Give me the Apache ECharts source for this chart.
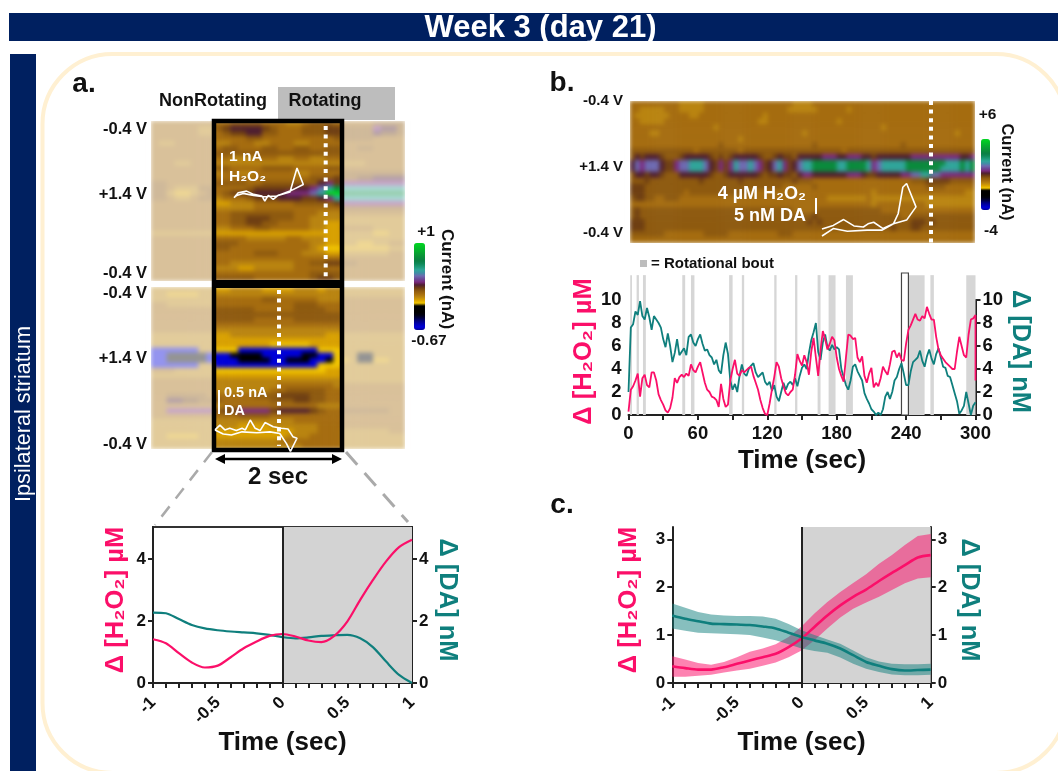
<!DOCTYPE html>
<html><head><meta charset="utf-8">
<style>html,body{margin:0;padding:0;background:#fff}#c{width:1058px;height:771px;isolation:isolate}</style>
<script src="https://cdn.jsdelivr.net/npm/echarts@6/dist/echarts.min.js"></script>
</head><body><div id="c"></div>
<script>
const FONT='Liberation Sans', PINK='#fb0f69', TEAL='#0f7f7d', NAVY='#002060';
// colour scale, bottom to top of the colour bars
const scaleColors=['#00009a','#0000d8','#0000b0','#000080','#000040','#000010','#000000','#000000','#000000','#f2c600','#d8a000','#b98410','#a56c0f','#8e5a0f','#6f3f12','#4f1f30','#7a2a7e','#6a4a96','#6e6ab0','#3f8fa5','#30a59a','#1d9a78','#0f8a5a','#0a7f45','#0a8a3c','#0a9836','#06a830','#04b82a','#02c825','#00d820'];
// position on that scale of each hex digit used in the plots below
const digitLevels=[0,1,4,6,9,10,11,12,13,14,15,16,18,20,24,29];
// current levels (hex digit per cell)
const plotATop=[
"77777777 7788887776678887 77778888","77777766 89aaaa9877788899 8888baa8","77777766 7899aa8877788899 8888a998","77777777 7777887777777778 88887777",
"76677777 6677766777667777 77777777","77777777 7887778877887788 77887777","77777777 8888888888888888 77777777","77777777 7766677766776677 77777777",
"77766777 6666666666666666 66677777","77777777 8877778888777788 77777777","77777777 6776677777667777 88888888","77777777 7777777777778889 8899aaaa",
"88777777 8888778888888ab9 bbbbbbbb","88766688 7777899999aabcde dddddddd","88655678 78999aaaabbbcdff eeeeeeee","88766788 67778999aaa99abd dddddddd",
"77777777 5566677777888889 bbbbbbbb","77777777 6666677777777777 88888888","77777777 7788888888777666 77777777","77777777 7788999888776666 66666666",
"77777777 7788998877776655 66666666","77777777 6677788777776655 77776666","66666666 5555555555555555 66665566","77777777 7777666667766655 66666666",
"77777777 8887777777776655 66556677","77777777 8877777777776544 55555566","77777777 7777788877766655 66666677","77777777 7777777777777777 77777777",
"77777777 7766666666778899 88777777","77777777 6665566666777777 77777777","77777777 7777777777778888 77777777","77777777 8888877777778998 77777777"];
const plotABottom=[
"66666666 5566665555666566 66666666","66555566 6666666666666666 66666666","66666666 7777778877777666 77777777","77666666 7777777777888777 77777777",
"77777777 8888877777888877 77777777","77777777 8888888888888888 77777777","77777777 8888877777888888 77777777","77777777 7777777777777777 77777777",
"77777777 6666666666666666 77777777","66666666 5566666666666655 66666666","66666666 5555555555555555 66666666","66666666 5555555444445555 66666666",
"11111166 4441111111111444 66666666","11333331 1133331111133114 66336666","11333331 1113333113331134 56335566","11111166 1111111111111444 66666666",
"77766666 4444444444444455 66666666","66666666 5555555555555555 66666666","77777777 6666666666666666 66666666","77777777 6666666677777776 77777777",
"77777777 6666666778888877 77777777","77888887 7777788899998877 77777777","77aa9988 8777777888998877 77777777","77777777 6777777777777666 77777777",
"77bbbbbb 899bbbb9aaaa9877 88888877","77777777 7778888777777777 77777777","66666666 6666666666777777 77777777","66666666 6665555666666777 77777777",
"66666666 5555555555666777 66666677","66555566 5555555556667777 66666666","66666666 6666666677777777 66666666","66666666 6666666666677777 66666666"];
const plotB=[
"7777777777 6666677777 7777777777 7776666777 7777777777 7777777777 7777777777",
"7766666777 6666677777 7777777777 7766666677 7777677777 7777777777 7777777777",
"7666666677 7766777777 7777777677 7777777777 7777777777 7777777777 7777777777",
"7766666777 7777777777 7777776677 7777777777 7767777777 7777777777 7777777777",
"7777777777 7777777677 7777777777 7777777777 7777777777 7677777777 7777777777",
"7777667777 7777777777 7777777777 7777767777 7777777777 7777777777 7777776777",
"7777777777 7777777777 7767777777 7777777777 7777777777 7777777777 7777777777",
"7777777777 7777777787 7777777777 7777777877 7777777777 7777787777 7777777777",
"8888888888 8887888888 8878888888 8888888888 8887888888 8888888888 8888888888",
"8a9aaa9888 9aaaaa9898 9aaaaa9889 a998aaaaab bbaabbbaa9 aaaaaaabbb bbbbbbbaab",
"acbccca99b ccdddca9b9 bdccdcb9ac db9acddeee eeddeeeedb cdddddeeee eeeedddede",
"acbccca99b ccdddca9b9 bdccdcb9ac db9acddeee eeddeeeedb cdddddeeee eeeddddede",
"8aa9aa9888 aaaaaa9889 aaaaaa9899 a998abbaaa aaaabbba99 aaaaabbccd dccbbbbbbb",
"8889888888 8888988888 8898888888 8889888777 7777777777 7777777888 9999988888",
"9998888888 8888888888 8888888888 8777777877 7777777777 7777777777 8888777777",
"9998888888 8788888888 8888777777 7777777777 7777777776 7777777777 7777777766",
"8998877888 7777777777 7777777777 7777777777 6666666676 6666666666 6666666666",
"7777777777 7777777777 7777777777 7777777777 7777777776 7777777777 6666666666",
"8988888888 8888888888 8888888888 8887777788 8888888888 8777777777 7777777777",
"8988888888 8888888888 8888888888 8888888988 8888888888 8888877888 8888888888",
"9998888888 8888888888 8888888888 8888889898 8888888888 8888888999 8988888888",
"9998888888 8888888888 8888888888 8888888888 8888888888 8889888998 8888888888",
"8888888777 7777788888 7777777777 8887777777 7777777777 7777777777 7777777777",
"7777777777 7777777777 7777777777 7777777777 7777777777 7777777777 7777777777"];
// voltammogram traces (normalised potential, normalised current)
const cvH2O2X=[0,6,18,28,40,44,49,56,63,80,90,99,80,61,42,28,13,4,0];
const cvH2O2Y=[10,25,30,20,15,0,17,5,17,27,100,50,30,15,13,17,23,17,10];
const cvDAX=[0,6,12,18,26,33,37,43,49,55,61,71,81,89,95,100,92,87,79,67,51,33,20,10,0];
const cvDAY=[69,84,69,74,67,74,69,100,74,67,92,79,74,72,48,43,2,27,58,63,60,63,53,56,69];
const cvBoutX=[0,12,27,48,64,76,90,100,90,86,81,76,65,55,49,44,34,23,12,0];
const cvBoutY=[0,14,9,11,11,23,30,55,99,92,42,23,14,26,23,17,19,31,20,13];
// panel a: single bout, t = -1..1 step 0.1
const windowTime=[-1,-.9,-.8,-.7,-.6,-.5,-.4,-.3,-.2,-.1,0,.1,.2,.3,.4,.5,.6,.7,.8,.9,1];
const boutH2O2=[1.41,1.28,.96,.66,.5,.56,.83,1.12,1.34,1.52,1.58,1.5,1.37,1.32,1.52,1.98,2.68,3.33,3.92,4.38,4.62];
const boutDA=[2.27,2.25,2.06,1.87,1.76,1.7,1.66,1.63,1.6,1.55,1.48,1.44,1.47,1.52,1.54,1.55,1.44,1.15,.69,.26,0];
// panel b: 300 s trace, one reading every 2 s
const traceStep=2;
const traceH2O2=[.3,2.2,2.5,3,3.6,1.6,3.2,3.5,2.6,2.4,3.7,3.7,3,1.8,1.3,.9,.4,.2,.6,1.5,3.2,2.8,3.3,3.5,3.3,3.6,3.4,4.4,3.9,3.7,4.2,4.6,3.7,2.8,2.2,2,1.6,1.5,1.3,.7,2.7,1.4,.7,.9,3,4,4.8,3.6,3.4,3.9,3.7,3.9,4.1,4.2,3.4,2.8,2.2,1.3,.6,.1,0,1,2.2,3.3,4.6,4.2,3.2,2.5,1.9,1.7,2,2.2,3.5,5.3,4.7,4.3,5.2,4.6,3.5,5.5,6.7,5,3.4,5.6,7.3,6.6,5.7,6.2,6.8,6.5,5,4,3.4,2.9,5,7,6.9,6.6,6.7,5,4.6,5.1,3.4,2.8,3.6,4.1,2.4,2.8,2.5,3.2,4.2,3.8,3.5,4.4,5.5,5.6,5,5.4,4.8,4.7,6.2,7.4,7.8,8.3,8.8,8.3,8.2,8.6,8.4,9.4,8.8,8.3,8.3,6.8,5.7,5.2,4.9,4.6,4.4,4.2,4,4,5.5,6.8,6,5.2,5,7,8.3,8.4,8.7];
const traceH2O2End=3;
const traceDA=[2,7.6,7.9,9,8.7,9.9,8.6,8.3,9.3,8.5,7.4,8.6,8.3,8,7.6,6.6,5.9,7.1,6,4.6,5.4,6.6,5.2,5.5,5.8,5.2,6.8,7,6.3,6,6.6,7,6.2,5.6,5.7,5.2,5,4.4,4.8,3.9,3.6,5.2,6.3,5.3,3,2.2,2.7,2,3.4,4.4,3.6,3.4,4,4.3,4.5,3.7,3.3,3.5,3.7,2.9,2.6,2.9,2.1,2.6,1.6,1.2,2,2.8,2.2,2.7,2.9,2.6,3.2,2.5,3.4,4.1,4.4,4,5.4,6.5,7.2,8,5.5,4.8,6.3,7,5.9,5.6,6.1,5.7,5.9,5.7,4,3.3,2.6,2.2,3,4.2,4.4,3.8,3.4,3,1.9,1.4,1,.5,.3,0,.2,0,.5,1.6,2,1.4,2,3,3.3,4,4.5,3.6,2.6,2.6,3.8,4.6,4.8,5,5.6,4.7,4.2,5.1,5.7,4.9,4.4,5.3,5.8,5,4.2,4.1,3.4,3.3,2.6,1.9,1.2,.1,.4,.8,2,1,0,.8,1.1];
const boutStarts=[1.5,7,12.5,46.5,54,87,98,126,144,163.5,173,188,242,261,292];
const boutEnds=[3,9,15,49,57,90,100,128,146,166,179,194,256,264,300];
const selectedBout=[236,242];
// panel c: mean +/- sem
const meanH2O2=[.35,.31,.28,.28,.33,.4,.47,.54,.61,.75,.93,1.17,1.41,1.62,1.8,1.95,2.13,2.3,2.46,2.62,2.67];
const upperH2O2=[.56,.49,.42,.38,.44,.54,.65,.72,.81,.96,1.18,1.45,1.69,1.9,2.09,2.27,2.49,2.67,2.88,3.07,3.11];
const lowerH2O2=[.13,.13,.15,.17,.22,.26,.3,.36,.43,.54,.68,.89,1.14,1.37,1.55,1.68,1.8,1.94,2.08,2.18,2.21];
const meanDA=[1.41,1.34,1.29,1.24,1.23,1.22,1.21,1.18,1.14,1.05,.96,.89,.82,.72,.58,.44,.36,.29,.26,.27,.28];
const upperDA=[1.66,1.57,1.48,1.43,1.41,1.4,1.4,1.39,1.34,1.23,1.1,1,.91,.82,.68,.54,.45,.4,.39,.39,.4];
const lowerDA=[1.14,1.09,1.05,1.04,1.03,1.02,1,.95,.89,.81,.72,.67,.63,.53,.4,.3,.23,.18,.16,.16,.17];
const windowLabels=[-1,-.5,0,.5,1];

const zip=(xs,ys)=>xs.map((x,i)=>[x,ys[i]]);
const cells=rows=>{const out=[];rows.forEach((r,y)=>r.replace(/ /g,'').split('').forEach((c,x)=>out.push([x,y,digitLevels[parseInt(c,16)]])));return out;};
const idx=n=>Array.from({length:n},(_,i)=>i);
const grid=[],xAxis=[],yAxis=[],series=[];
function addGrid(g,xa,ya){grid.push(g);const gi=grid.length-1;
  xa.gridIndex=gi;xAxis.push(xa);const xi=xAxis.length-1;
  const yis=ya.map(a=>{a.gridIndex=gi;yAxis.push(a);return yAxis.length-1;});
  return {xi,yis};}
const bold=(s,c)=>({fontFamily:FONT,fontWeight:'bold',fontSize:s,color:c||'#111'});
function heat(rows,box){
  const nc=rows[0].replace(/ /g,'').length,nr=rows.length;
  const r=addGrid(box,{type:'category',data:idx(nc),show:false},[{type:'category',data:idx(nr),inverse:true,show:false}]);
  series.push({type:'heatmap',zlevel:-1,xAxisIndex:r.xi,yAxisIndex:r.yis[0],data:cells(rows),silent:true,progressive:0,itemStyle:{borderWidth:0}});
}
heat(plotATop,{left:151,top:121,width:254,height:160});
heat(plotABottom,{left:151,top:287,width:254,height:162});
heat(plotB,{left:630,top:101,width:345,height:142});
function cv(xs,ys,box){
  const r=addGrid(box,{type:'value',min:0,max:100,show:false},[{type:'value',min:0,max:100,show:false}]);
  series.push({type:'line',xAxisIndex:r.xi,yAxisIndex:r.yis[0],data:zip(xs,ys),showSymbol:false,smooth:false,z:60,silent:true,clip:false,lineStyle:{color:'#fff',width:1.6}});
}
cv(cvH2O2X,cvH2O2Y,{left:234,top:168,width:70,height:33});
cv(cvDAX,cvDAY,{left:215,top:420,width:82,height:32});
cv(cvBoutX,cvBoutY,{left:822,top:183,width:94,height:53});
const line={lineStyle:{color:'#222',width:2}};
function valAxis(pos,max,vals,color,name,gap,size,rot,hideLine,lsize,pad){
  return {type:'value',position:pos,min:0,max:max,splitLine:{show:false},
    axisLine:{show:!hideLine,onZero:false,...line},
    axisTick:{show:!hideLine,customValues:vals,length:5,...line},
    axisLabel:{customValues:vals,margin:7,...bold(lsize)},
    name:name,nameLocation:'middle',nameGap:gap,nameRotate:rot,nameTextStyle:{...bold(size,color),padding:pad}};
}
function winX(){
  return {type:'value',min:-1,max:1,splitLine:{show:false},axisLine:{onZero:false,...line},
    axisTick:{customValues:windowTime,length:5,...line},
    axisLabel:{customValues:windowLabels,rotate:45,margin:17,formatter:v=>String(v),...bold(17)},
    name:'Time (sec)',nameLocation:'middle',nameGap:43,nameTextStyle:bold(26)};
}
const greyArea={silent:true,itemStyle:{color:'#d3d3d3'},data:[[{xAxis:0},{xAxis:1}]]};
const zeroLine={silent:true,symbol:'none',label:{show:false},lineStyle:{color:'#222',width:2,type:'solid'},data:[{xAxis:0}]};
function band(xi,yi,lower,upper,color,opacity,extra){
  const rev=windowTime.map((t,i)=>[t,lower[i]]).reverse();
  const top=windowTime.map((t,i)=>[t,upper[i]]);
  series.push({type:'custom',xAxisIndex:xi,yAxisIndex:yi,silent:true,data:windowTime.map((t,i)=>[t,lower[i],upper[i]]),encode:{x:0,y:[1,2]},
    renderItem:(params,api)=>params.dataIndex?null:({type:'polygon',shape:{points:top.concat(rev).map(p=>api.coord(p))},style:{fill:color,opacity:opacity}}),...extra});
}
// panel a lines
{
  const r=addGrid({left:153,top:527,width:259,height:156,show:true,borderColor:'#333',borderWidth:2,backgroundColor:'transparent'},winX(),
   [valAxis('left',5.03,[0,2,4],PINK,'\u0394 [H\u2082O\u2082] \u00b5M',24,25.5,90,false,17,[0,0,0,10]),valAxis('right',5.03,[0,2,4],TEAL,'\u0394 [DA] nM',22,25.5,-90,false,17,[0,10,0,0])]);
  series.push({type:'line',xAxisIndex:r.xi,yAxisIndex:r.yis[1],data:zip(windowTime,boutDA),showSymbol:false,lineStyle:{color:TEAL,width:2.2},markArea:greyArea,markLine:zeroLine,smooth:.3});
  series.push({type:'line',xAxisIndex:r.xi,yAxisIndex:r.yis[0],data:zip(windowTime,boutH2O2),showSymbol:false,lineStyle:{color:PINK,width:2.2},smooth:.3});
}
// panel b bouts
{
  const r=addGrid({left:628.5,top:273,width:347,height:142},{type:'value',min:0,max:300,show:false},[{type:'value',min:0,max:1,show:false}]);
  const areas=boutStarts.map((s,i)=>[{xAxis:s,yAxis:0},{xAxis:boutEnds[i],yAxis:.985}]);
  areas.push([{xAxis:selectedBout[0],yAxis:0,itemStyle:{color:'#fff',borderColor:'#444',borderWidth:1.2}},{xAxis:selectedBout[1],yAxis:1}]);
  series.push({type:'line',xAxisIndex:r.xi,yAxisIndex:r.yis[0],data:[[0,0]],showSymbol:false,lineStyle:{width:0},markArea:{silent:true,itemStyle:{color:'#d6d6d6'},data:areas}});
}
// panel b trace
{
  const ticks=idx(11).map(i=>i*30),labels=idx(6).map(i=>i*60),ys=[0,2,4,6,8,10];
  const r=addGrid({left:628.5,top:300,width:347,height:115},
   {type:'value',min:0,max:300,splitLine:{show:false},axisLine:{onZero:false,...line},axisTick:{customValues:ticks,length:5,...line},
    axisLabel:{customValues:labels,margin:9,...bold(18.5)},name:'Time (sec)',nameLocation:'middle',nameGap:33,nameTextStyle:bold(26)},
   [valAxis('left',10,ys,PINK,'\u0394 [H\u2082O\u2082] \u00b5M',28,25.5,90,true,18.5,[0,0,0,12]),valAxis('right',10,ys,TEAL,'\u0394 [DA] nM',27,25.5,-90,false,18.5,[0,12,0,0])]);
  series.push({type:'line',xAxisIndex:r.xi,yAxisIndex:r.yis[1],data:traceDA.map((v,i)=>[i*traceStep,v]),showSymbol:false,lineStyle:{color:TEAL,width:1.8}});
  series.push({type:'line',xAxisIndex:r.xi,yAxisIndex:r.yis[0],data:traceH2O2.map((v,i)=>[i*traceStep,v]).concat([[300,traceH2O2End]]),showSymbol:false,lineStyle:{color:PINK,width:1.8}});
}
// panel c
{
  const vs=[0,1,2,3];
  const r=addGrid({left:672.3,top:527,width:258.4,height:156},winX(),
   [valAxis('left',3.257,vs,PINK,'\u0394 [H\u2082O\u2082] \u00b5M',30,25.5,90,false,17,[0,0,0,10]),valAxis('right',3.257,vs,TEAL,'\u0394 [DA] nM',25,25.5,-90,false,17,[0,10,0,0])]);
  const yP=r.yis[0],yT=r.yis[1],xi=r.xi;
  series.push({type:'line',xAxisIndex:xi,yAxisIndex:yP,data:zip(windowTime,meanH2O2),showSymbol:false,lineStyle:{color:PINK,width:2.6},smooth:.3,markArea:greyArea,z:4});
  band(xi,yP,lowerH2O2,upperH2O2,PINK,.52,{z:3});
  band(xi,yT,lowerDA,upperDA,TEAL,.5,{z:3});
  series.push({type:'line',xAxisIndex:xi,yAxisIndex:yT,data:zip(windowTime,meanDA),showSymbol:false,lineStyle:{color:TEAL,width:2.6},smooth:.3,z:4,markLine:zeroLine});
}
// graphics
const T=(s,x,y,size,o={})=>({type:'text',x,y,rotation:o.rot||0,z:o.z||70,silent:true,style:{text:s,x:0,y:0,fontFamily:FONT,fontWeight:o.w||'bold',fontSize:size,fill:o.c||'#111',textAlign:o.a||'center',textVerticalAlign:'middle'}});
const R=(x,y,w,h,fill,z,extra={})=>({type:'rect',silent:true,z,shape:{x,y,width:w,height:h,...(extra.shape||{})},style:{fill,...(extra.style||{})}});
const L=(x1,y1,x2,y2,stroke,w,dash,z=60)=>({type:'line',silent:true,z,shape:{x1,y1,x2,y2},style:{stroke,lineWidth:w,lineDash:dash||null}});
const g=[
 R(9,13,1049,28,NAVY,0),
 R(10,54,26,717,NAVY,0),
 R(42.5,54,1023.5,719,'none',0,{shape:{r:70},style:{stroke:'#fff0d2',lineWidth:4}}),
 T('Week 3 (day 21)',540.5,28,31,{c:'#fff'}),
 T('Ipsilateral striatum',24.5,414,21.7,{c:'#fff',w:'normal',rot:Math.PI/2}),
 T('a.',84,84,28),T('b.',562,83,28),T('c.',562,505,28),
 T('NonRotating',213,101,18),
 R(278,87,117,33,'#bdbdbd',1),
 T('Rotating',325,101,18),
 T('-0.4 V',147,129,16.5,{a:'right'}),T('+1.4 V',147,194,16.5,{a:'right'}),T('-0.4 V',147,273,16.5,{a:'right'}),
 T('-0.4 V',147,293,16.5,{a:'right'}),T('+1.4 V',147,358,16.5,{a:'right'}),T('-0.4 V',147,444,16.5,{a:'right'}),
 R(151,121,63,160,'rgba(255,255,255,.58)',20),R(342,121,63,160,'rgba(255,255,255,.58)',20),
 R(151,287,63,162,'rgba(255,255,255,.58)',20),R(342,287,63,162,'rgba(255,255,255,.58)',20),
 R(146,281,264,6,'#fff',21),R(146,449,264,6,'#fff',21),R(146,115,264,6,'#fff',21),R(146,116,5,340,'#fff',21),R(405,116,5,340,'#fff',21),
 R(625,95,5,154,'#fff',21),R(975,95,5,154,'#fff',21),R(625,95,355,6,'#fff',21),R(625,243,355,6,'#fff',21),
 R(278,87,117,33,'#bdbdbd',22),
 R(214,121,128,329,'none',30,{style:{stroke:'#000',lineWidth:4.5}}),
 R(212,280,132,8,'#000',30),
 L(325.7,126,325.7,277,'#fff',4,[4,4.6]),L(279,290,279,446,'#fff',4,[4,4.6]),L(931,101,931,243,'#fff',4,[4,4.6]),
 L(222,153,222,185,'#fff',2),L(219,390,219,414,'#fff',2),L(816,198,816,214,'#fff',2),
 T('1 nA',229,157,15.5,{c:'#fff',a:'left'}),T('H\u2082O\u2082',229,177,15.5,{c:'#fff',a:'left'}),
 T('0.5 nA',224,393,14.5,{c:'#fff',a:'left'}),T('DA',224,411,14.5,{c:'#fff',a:'left'}),
 T('4 \u00b5M H\u2082O\u2082',806,194,18,{c:'#fff',a:'right'}),T('5 nM DA',806,216,18,{c:'#fff',a:'right'}),
 L(221,459,336,459,'#000',2.5),
 {type:'polygon',silent:true,z:60,shape:{points:[[215,459],[225,454],[225,464]]},style:{fill:'#000'}},
 {type:'polygon',silent:true,z:60,shape:{points:[[342,459],[332,454],[332,464]]},style:{fill:'#000'}},
 T('2 sec',278,477,24),
 L(212,452,155,525,'#aaa',2.5,[13,10]),L(346,452,408,522,'#aaa',3,[17,11]),
 T('+1',426,232,15.5),T('-0.67',429,341,15.5),T('Current (nA)',447,279,17,{rot:-Math.PI/2}),
 T('+6',987.5,115,15.5),T('-4',991,231,15.5),T('Current (nA)',1007,172,16.5,{rot:-Math.PI/2}),
 T('-0.4 V',623,101,15,{a:'right'}),T('+1.4 V',623,167,15,{a:'right'}),T('-0.4 V',623,233,15,{a:'right'}),
 R(640,260,7,7,'#bdbdbd',5),T('= Rotational bout',651,263.5,15,{a:'left'})
];
const vm=(seriesIndex,left,top,w,h)=>({type:'continuous',min:0,max:scaleColors.length-1,seriesIndex,show:true,calculable:false,realtime:false,hoverLink:false,left,top,itemWidth:w,itemHeight:h,padding:0,text:null,inRange:{color:scaleColors},textStyle:{fontSize:0}});
const chart=echarts.init(document.getElementById('c'),null,{renderer:'canvas'});
chart.setOption({animation:false,backgroundColor:'transparent',tooltip:{show:false},grid,xAxis,yAxis,series,graphic:{elements:g},
 visualMap:[vm([0,1],414,243,11,87),vm([2],981,139,9,71)]});
// the colour plots in the source are soft; only the lowest canvas (heatmap layer) gets this
const softenHeat=()=>{const c=chart.getDom().querySelector('canvas');if(c)c.style.filter='blur(2px)';};
softenHeat();chart.on('finished',softenHeat);
</script></body></html>
